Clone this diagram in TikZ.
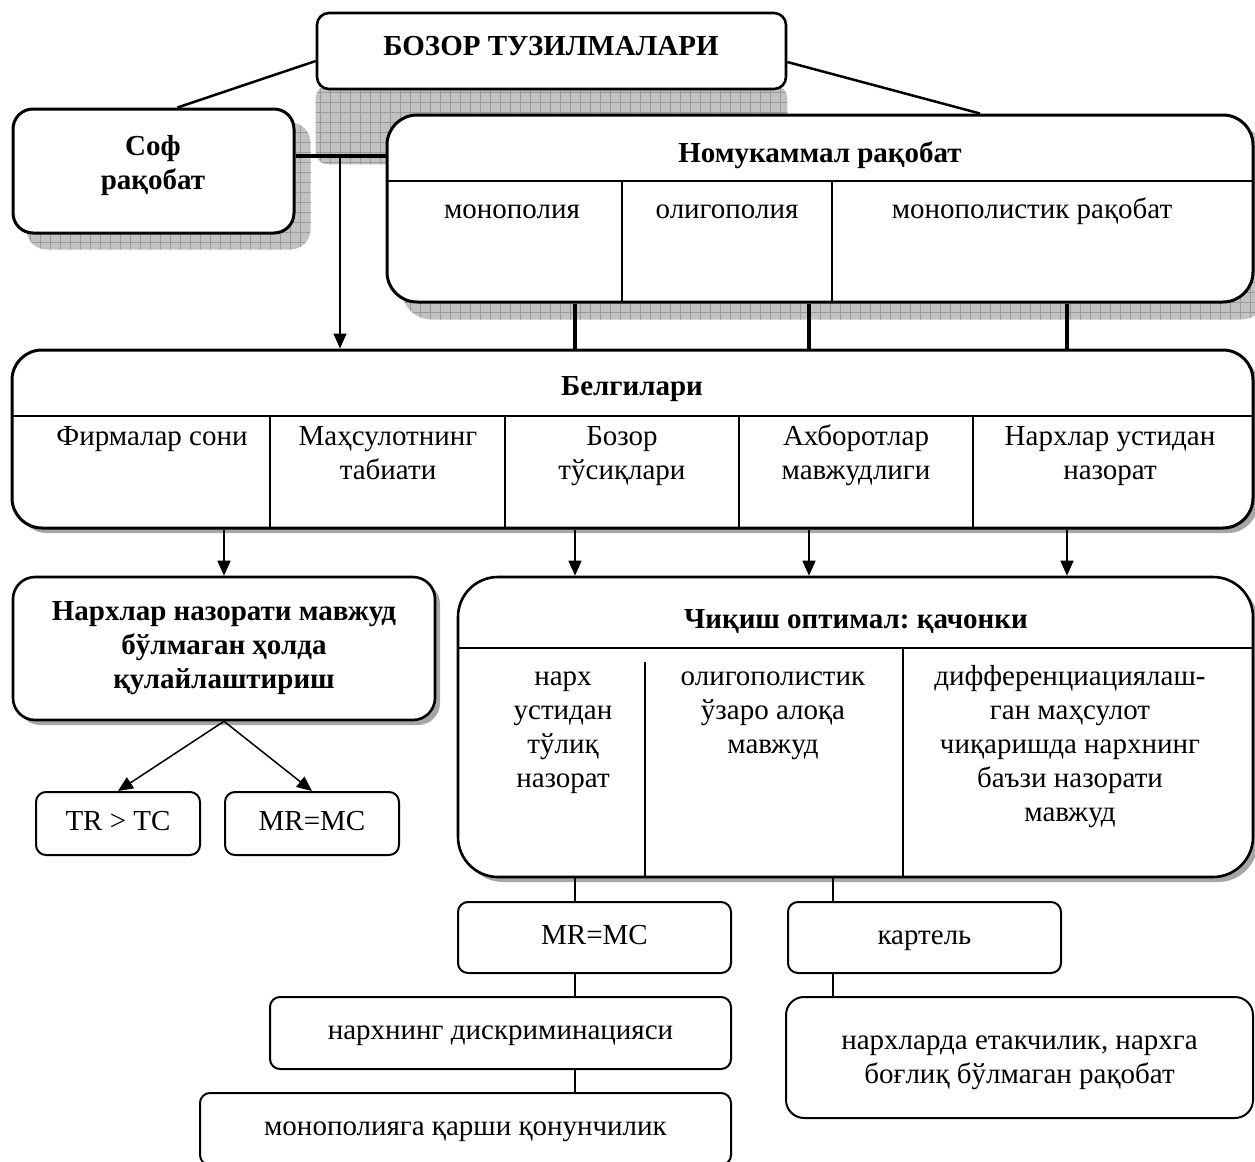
\documentclass[tikz,border=0pt]{standalone}
\usepackage{fontspec}
\setmainfont{Liberation Serif}
\frenchspacing
\usepackage{tikz}
\usetikzlibrary{positioning,fit,backgrounds,shadows,patterns.meta,arrows.meta}
\newcommand{\tp}{\rule{0pt}{12.5pt}}
\tikzset{
bigbox/.style={draw=black,line width=1.3pt,fill=white,inner sep=0pt},
smallbox/.style={draw=black,line width=1pt,fill=white,rounded corners=5pt,inner sep=0pt,align=center,font=\fontsize{14.5pt}{17pt}\selectfont},
oneline/.style={smallbox,text height=10pt,text depth=3.5pt},
thinshadow/.style={drop shadow={shadow xshift=2.5pt,shadow yshift=-2.5pt,fill=gray!70,opacity=1}},
gridshadow/.style={fill=gray!48,
  postaction={pattern color=gray!80,pattern={Lines[angle=0,distance=5pt,line width=0.4pt]}},
  postaction={pattern color=gray!80,pattern={Lines[angle=90,distance=5pt,line width=0.4pt]}}},
cellline/.style={line width=0.7pt},
link/.style={line width=1.25pt},
thicklink/.style={line width=1.6pt},
stem/.style={line width=0.75pt},
arrow/.style={line width=0.75pt,-{Triangle[length=7.5pt,width=6.5pt]}},
celltext/.style={anchor=north,align=center,inner sep=0pt,font=\fontsize{14.5pt}{17pt}\selectfont},
headtext/.style={celltext,font=\fontsize{14.5pt}{17pt}\selectfont\bfseries}
}

\begin{document}
\begin{tikzpicture}[x=0.5pt,y=-0.5pt]
\useasboundingbox (0,0) rectangle (1255,1162);
% frames
\node[bigbox,rounded corners=6pt,fit={(317,13) (786,89)}] (title) {};
\node[bigbox,line width=1.5pt,rounded corners=10pt,fit={(13,109) (294,233)}] (sof) {};
\node[bigbox,line width=1.5pt,rounded corners=15pt,fit={(387,115) (1253,302)}] (nomuk) {};
\node[bigbox,thinshadow,line width=1.5pt,rounded corners=15pt,fit={(12,350) (1253,528)}] (belg) {};
\node[bigbox,thinshadow,rounded corners=11pt,fit={(13,577) (435,720)}] (narx) {};
\node[bigbox,thinshadow,rounded corners=20pt,fit={(458,577) (1253,877)}] (chiq) {};

% checkered shadows
\begin{scope}[on background layer]
\fill[gridshadow,rounded corners=6pt] ([yshift=-37pt]title.south west) rectangle ([yshift=-37pt]title.north east);
\fill[gridshadow,rounded corners=10pt] ([shift={(7.5pt,-7.5pt)}]sof.south west) rectangle ([shift={(7.5pt,-7.5pt)}]sof.north east);
\fill[gridshadow,rounded corners=15pt] ([shift={(8pt,-8pt)}]nomuk.south west) rectangle ([shift={(8pt,-8pt)}]nomuk.north east);
\end{scope}

% cells
\draw[cellline] (387,181) -- (1253,181) (622,181) -- (622,302) (832,181) -- (832,302);
\draw[cellline] (12,416) -- (1253,416);
\foreach \x in {270,505,739,973}
  \draw[cellline] (\x,416) -- (\x,528);
\draw[cellline] (458,648) -- (1253,648) (645,662) -- (645,877) (903,648) -- (903,877);

% texts
\node[headtext] (title-t) at (551,30) {\tp БОЗОР ТУЗИЛМАЛАРИ};
\node[headtext] (sof-t) at (153,130) {\tp Соф\\рақобат};
\node[headtext] (nomuk-h) at (820,137) {\tp Номукаммал рақобат};
\node[celltext] (nomuk-a) at (512,193) {\tp монополия};
\node[celltext] (nomuk-b) at (727,193) {\tp олигополия};
\node[celltext] (nomuk-c) at (1032,193) {\tp монополистик рақобат};
\node[headtext] (belg-h) at (632,370) {\tp Белгилари};
\node[celltext] (belg-1) at (152,420) {\tp Фирмалар сони};
\node[celltext] (belg-2) at (388,420) {\tp Маҳсулотнинг\\табиати};
\node[celltext] (belg-3) at (622,420) {\tp Бозор\\тўсиқлари};
\node[celltext] (belg-4) at (856,420) {\tp Ахборотлар\\мавжудлиги};
\node[celltext] (belg-5) at (1110,420) {\tp Нархлар устидан\\назорат};
\node[headtext] (narx-t) at (224,595) {\tp Нархлар назорати мавжуд\\бўлмаган ҳолда\\қулайлаштириш};
\node[headtext] (chiq-h) at (856,603) {\tp Чиқиш оптимал: қачонки};
\node[celltext] (chiq-1) at (563,660) {\tp нарх\\устидан\\тўлиқ\\назорат};
\node[celltext] (chiq-2) at (773,660) {\tp олигополистик\\ўзаро алоқа\\мавжуд};
\node[celltext] (chiq-3) at (1070,660) {\tp дифференциациялаш-\\ган маҳсулот\\чиқаришда нархнинг\\баъзи назорати\\мавжуд};

% small boxes
\node[oneline,minimum width=82pt,minimum height=31.5pt] (trtc) at (118,823.5) {TR > TC};
\node[oneline,minimum width=87pt,minimum height=31.5pt,right=11.5pt of trtc] (mrmc) {MR=MC};
\node[oneline,minimum width=136.5pt,minimum height=35.5pt] (mrmc2) at (594.5,937.5) {MR=MC};
\node[oneline,minimum width=136.5pt,minimum height=35.5pt,right=27.5pt of mrmc2] (kart) {картель};
\node[oneline,minimum width=230.5pt,minimum height=36pt] (disc) at (500.5,1033) {нархнинг дискриминацияси};
\node[oneline,minimum width=265.5pt,minimum height=36pt] (anti) at (465.5,1129) {монополияга қарши қонунчилик};
\node[smallbox,rounded corners=9pt,minimum width=233.5pt,minimum height=60.5pt] (lead) at (1019.5,1057.5) {\tp нархларда етакчилик, нархга\\боғлиқ бўлмаган рақобат};

% connectors
\coordinate (jn) at (340,156);
\coordinate (c1) at (575,0);
\coordinate (c2) at (809,0);
\coordinate (c3) at (1067,0);
\coordinate (c4) at (833,0);
\draw[link] ([yshift=-5pt]title.west) -- ([xshift=12pt]sof.north);
\draw[link] ([yshift=-5.5pt]title.east) -- ([xshift=80pt]nomuk.north);
\draw[thicklink] (sof.east |- jn) -- (nomuk.west |- jn);
\draw[arrow] (jn) -- (belg.north -| jn);
\foreach \c in {c1,c2,c3}
  \draw[thicklink] (nomuk.south -| \c) -- (belg.north -| \c);
\draw[arrow] (belg.south -| narx.north) -- (narx.north);
\foreach \c in {c1,c2,c3}
  \draw[arrow] (belg.south -| \c) -- (chiq.north -| \c);
\draw[arrow] (narx.south) -- (trtc.north);
\draw[arrow] (narx.south) -- (mrmc.north);
\draw[stem] (chiq.south -| c1) -- (mrmc2.north -| c1);
\draw[stem] (mrmc2.south -| c1) -- (disc.north -| c1);
\draw[stem] (disc.south -| c1) -- (anti.north -| c1);
\draw[stem] (chiq.south -| c4) -- (kart.north -| c4);
\draw[stem] (kart.south -| c4) -- (lead.north -| c4);
\end{tikzpicture}
\end{document}
